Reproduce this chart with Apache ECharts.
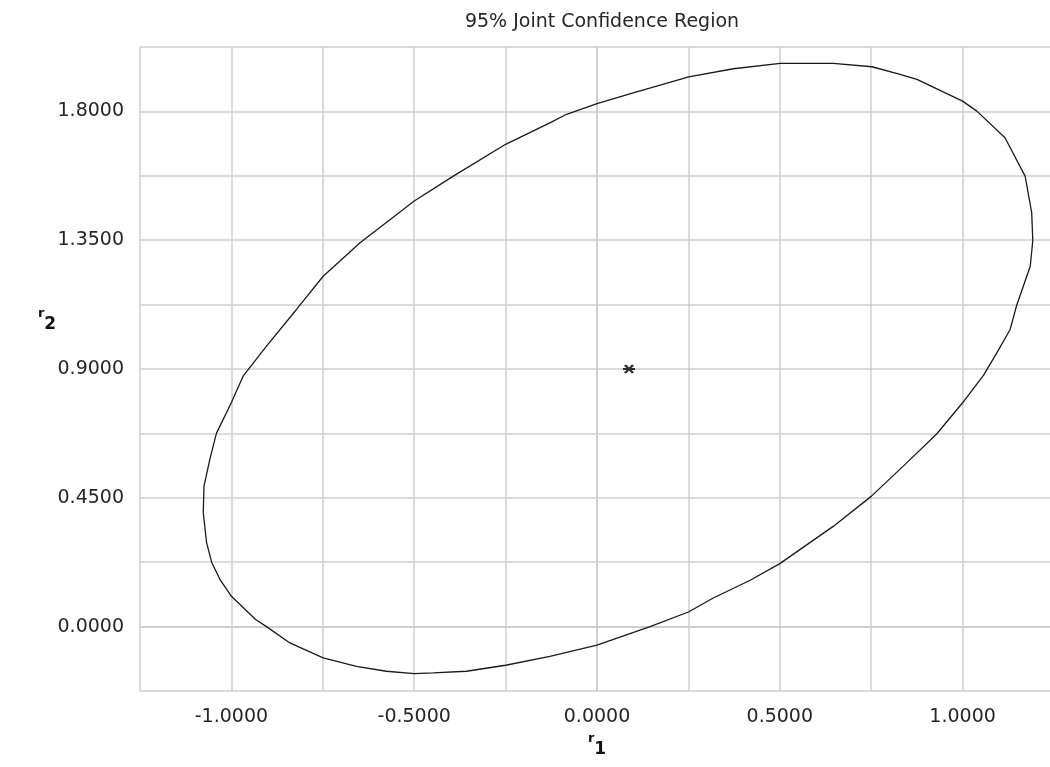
<!DOCTYPE html>
<html>
<head>
<meta charset="utf-8">
<title>95% Joint Confidence Region</title>
<script src="https://cdn.jsdelivr.net/npm/echarts@6/dist/echarts.min.js"></script>
<style>
  html, body { margin: 0; padding: 0; background: #ffffff; overflow: hidden; }
  #chart { width: 1050px; height: 767px; }
</style>
</head>
<body>
<div id="chart"></div>
<script>
// Boundary of the joint confidence region, traced clockwise from the top
const regionR1 = [
  0.501, 0.646, 0.752, 0.829, 0.875, 1.000, 1.039, 1.116, 1.171, 1.189,
  1.192, 1.185, 1.148, 1.130, 1.094, 1.057, 1.000, 0.929, 0.847, 0.750,
  0.647, 0.500, 0.419, 0.318, 0.250, 0.145, 0.000, -0.129, -0.250, -0.357,
  -0.448, -0.500, -0.576, -0.658, -0.749, -0.840, -0.904, -0.933, -1.000, -1.031,
  -1.054, -1.068, -1.077, -1.075, -1.059, -1.041, -1.000, -0.968, -0.904, -0.822,
  -0.749, -0.648, -0.500, -0.393, -0.250, -0.129, -0.083, 0.000, 0.099, 0.251,
  0.373, 0.501
];
const regionR2 = [
  1.968, 1.968, 1.956, 1.929, 1.912, 1.836, 1.801, 1.708, 1.574, 1.446,
  1.349, 1.259, 1.123, 1.038, 0.957, 0.878, 0.782, 0.673, 0.572, 0.455,
  0.351, 0.220, 0.162, 0.100, 0.051, 0.000, -0.065, -0.104, -0.135, -0.156,
  -0.162, -0.164, -0.156, -0.139, -0.109, -0.057, 0.000, 0.024, 0.106, 0.164,
  0.225, 0.294, 0.398, 0.490, 0.584, 0.675, 0.783, 0.875, 0.980, 1.108,
  1.224, 1.341, 1.487, 1.574, 1.685, 1.760, 1.790, 1.827, 1.865, 1.921,
  1.949, 1.968
];

// Point estimate (r1, r2)
const estimate = [0.0875, 0.9];

// Axis ranges and tick spacing
const r1Axis = { min: -1.25, max: 1.25, step: 0.25, labelStep: 0.5 };
const r2Axis = { min: -0.225, max: 2.025, step: 0.225, labelStep: 0.45 };

const titleText = '95% Joint Confidence Region';

const regionData = regionR1.map((x, i) => [x, regionR2[i]]);

function onLabelStep(value, labelStep) {
  const k = value / labelStep;
  return Math.abs(k - Math.round(k)) < 1e-6;
}

const gridColor = '#cfcfcf';
const textFamily = 'DejaVu Sans, Verdana, sans-serif';
const labelFont = { fontFamily: textFamily, fontSize: 19, color: '#262626' };

const axisNameRich = {
  r: { fontFamily: textFamily, fontSize: 13, fontWeight: 'bold', fill: '#111111', verticalAlign: 'top', lineHeight: 26 },
  d: { fontFamily: textFamily, fontSize: 17, fontWeight: 'bold', fill: '#111111', verticalAlign: 'bottom', lineHeight: 26 }
};

const chart = echarts.init(document.getElementById('chart'), null, { renderer: 'canvas' });

chart.setOption({
  backgroundColor: '#ffffff',
  animation: false,
  title: {
    text: titleText,
    left: 597,
    textAlign: 'center',
    top: 8,
    textStyle: { fontFamily: textFamily, fontSize: 19, fontWeight: 'normal', color: '#262626' }
  },
  // the plot runs slightly past the right edge of the canvas
  grid: { left: 140, width: 914, top: 47, height: 644, containLabel: false, outerBoundsMode: 'none' },
  xAxis: {
    type: 'value',
    min: r1Axis.min,
    max: r1Axis.max,
    interval: r1Axis.step,
    axisLine: { show: true, lineStyle: { color: gridColor, width: 2 } },
    axisTick: { show: false },
    splitLine: { show: true, lineStyle: { color: gridColor, width: 1.5 } },
    axisLabel: Object.assign({
      margin: 17,
      showMinLabel: true,
      showMaxLabel: true,
      formatter: v => onLabelStep(v, r1Axis.labelStep) ? v.toFixed(4) : ''
    }, labelFont)
  },
  yAxis: {
    type: 'value',
    min: r2Axis.min,
    max: r2Axis.max,
    interval: r2Axis.step,
    axisLine: { show: true, lineStyle: { color: gridColor, width: 2 } },
    axisTick: { show: false },
    splitLine: { show: true, lineStyle: { color: gridColor, width: 1.5 } },
    axisLabel: Object.assign({
      margin: 16,
      formatter: v => onLabelStep(v, r2Axis.labelStep) ? v.toFixed(4) : ''
    }, labelFont)
  },
  graphic: [
    {
      type: 'text',
      x: 597,
      y: 745,
      style: { text: '{r|r}{d|1}', align: 'center', verticalAlign: 'middle', rich: axisNameRich }
    },
    {
      type: 'text',
      x: 47,
      y: 320,
      style: { text: '{r|r}{d|2}', align: 'center', verticalAlign: 'middle', rich: axisNameRich }
    }
  ],
  series: [
    {
      name: 'Confidence region',
      type: 'line',
      data: regionData,
      showSymbol: false,
      smooth: false,
      lineStyle: { color: '#1a1a1a', width: 1.3 },
      silent: true
    },
    {
      name: 'Estimate',
      type: 'scatter',
      data: [estimate],
      symbol: 'path://M0,4 L12,4 M2,0 L10,8 M10,0 L2,8',
      symbolSize: [12, 8],
      itemStyle: { color: 'none', borderColor: '#000000', borderWidth: 2.2 },
      silent: true
    }
  ]
});
</script>
</body>
</html>
